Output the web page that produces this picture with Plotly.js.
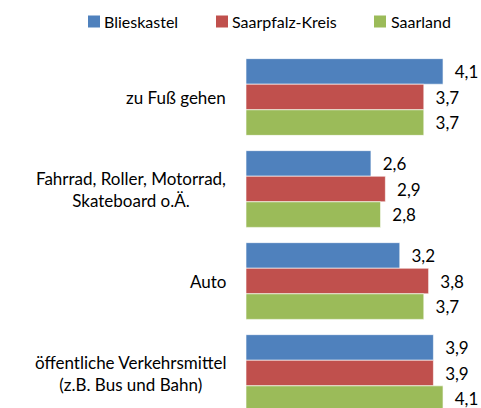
<!DOCTYPE html>
<html>
<head>
<meta charset="utf-8">
<script src="https://cdn.plot.ly/plotly-3.0.1.min.js"></script>
<style>html,body{margin:0;padding:0;background:#fff;}#chart{width:481px;height:408px;}</style>
</head>
<body>
<div id="chart"></div>
<script>
const categories = [
  "zu Fuß gehen",
  "Fahrrad, Roller, Motorrad,<br>Skateboard o.Ä.",
  "Auto",
  "öffentliche Verkehrsmittel<br>(z.B. Bus und Bahn)"
];
const seriesNames = ["Blieskastel", "Saarpfalz-Kreis", "Saarland"];
const blieskastel = [4.1, 2.6, 3.2, 3.9];
const saarpfalzKreis = [3.7, 2.9, 3.8, 3.9];
const saarland = [3.7, 2.8, 3.7, 4.1];
const seriesValues = [blieskastel, saarpfalzKreis, saarland];
const colors = ["#4F81BD", "#C0504D", "#9BBB59"];

const FONT = "Lato, 'Liberation Sans', sans-serif";
const W = 481, H = 408, ML = 246, MR = 0, MT = 51, MB = 0;
const PW = W - ML - MR, PH = H - MT - MB;
const px2x = px => (px - ML) / PW;
const px2y = py => 1 + (MT - py) / PH;

const catIdx = categories.map((c, i) => i);

const traces = seriesNames.map((name, s) => ({
  type: "bar",
  orientation: "h",
  name: name,
  x: seriesValues[s],
  y: catIdx,
  marker: {color: colors[s], line: {color: "rgba(255,255,255,0.6)", width: 1}},
  texttemplate: "\u00a0\u00a0%{x:.1f}",
  textposition: "outside",
  constraintext: "none",
  cliponaxis: false,
  textfont: {family: FONT, size: 17, color: "#000"},
  hoverinfo: "skip",
  showlegend: false
}));

const annotations = categories.map((c, i) => ({
  xref: "paper", yref: "y", x: 0, y: i,
  xanchor: "right", yanchor: "middle", xshift: -18,
  text: c, showarrow: false, align: "center",
  font: {family: FONT, size: 17, color: "#000"}
}));

// legend drawn as swatches + labels
const legendSquareLeft = [88, 216, 374];
const legendTextLeft = [102, 230, 389];
const shapes = [];
seriesNames.forEach((name, s) => {
  shapes.push({
    type: "rect", xref: "paper", yref: "paper",
    x0: px2x(legendSquareLeft[s]), x1: px2x(legendSquareLeft[s] + 12),
    y0: px2y(27.5), y1: px2y(15.5),
    fillcolor: colors[s], line: {width: 0}
  });
  annotations.push({
    xref: "paper", yref: "paper",
    x: px2x(legendTextLeft[s]), y: px2y(21),
    xanchor: "left", yanchor: "middle",
    text: name, showarrow: false,
    font: {family: FONT, size: 16, color: "#000"}
  });
});

const layout = {
  width: W, height: H,
  margin: {l: ML, r: MR, t: MT, b: MB, pad: 0, autoexpand: false},
  paper_bgcolor: "#fff", plot_bgcolor: "#fff",
  barmode: "group", bargap: 0.166, bargroupgap: 0,
  separators: ",.",
  xaxis: {range: [0, 4.89], visible: false, fixedrange: true},
  yaxis: {range: [3.38, -0.5], visible: false, fixedrange: true},
  showlegend: false,
  shapes: shapes,
  annotations: annotations
};

Plotly.newPlot("chart", traces, layout, {displayModeBar: false, staticPlot: true});
</script>
</body>
</html>
